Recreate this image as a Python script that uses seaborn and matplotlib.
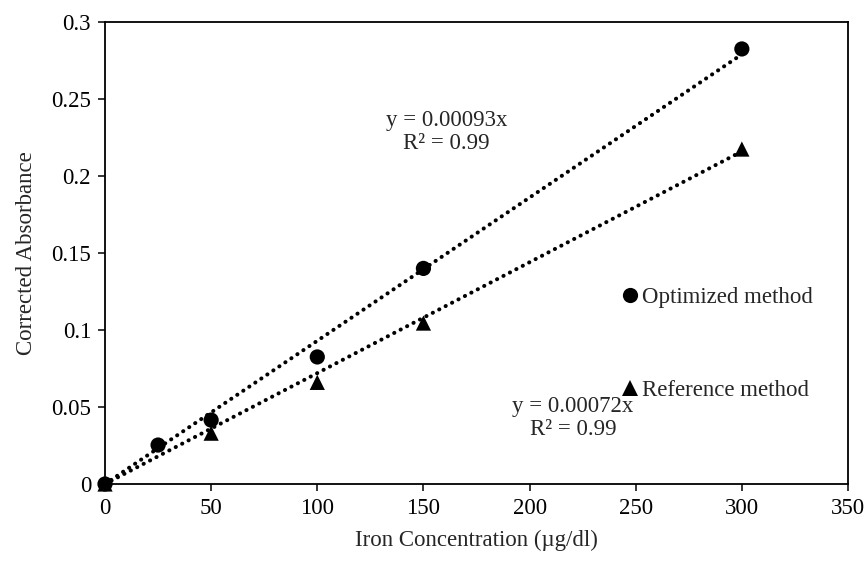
import matplotlib
matplotlib.use("Agg")
import matplotlib.pyplot as plt
import seaborn as sns
import pandas as pd
import numpy as np

# ---- data ----
opt_x = [0, 25, 50, 100, 150, 300]
opt_y = [0.0, 0.0253, 0.0415, 0.0825, 0.140, 0.2825]
ref_x = [0, 50, 100, 150, 300]
ref_y = [0.0, 0.033, 0.066, 0.1045, 0.2175]
opt_slope = 0.00093
ref_slope = 0.00072
series_names = ["Optimized method", "Reference method"]
x_ticks = [0, 50, 100, 150, 200, 250, 300, 350]
y_ticks = [0, 0.05, 0.1, 0.15, 0.2, 0.25, 0.3]
y_tick_labels = ["0", "0.05", "0.1", "0.15", "0.2", "0.25", "0.3"]

df = pd.DataFrame({
    "x": opt_x + ref_x,
    "y": opt_y + ref_y,
    "method": [series_names[0]] * len(opt_x) + [series_names[1]] * len(ref_x),
})

sns.set_style("white")
plt.rcParams["font.family"] = ["Liberation Serif", "DejaVu Serif"]

FS = 16.5

fig = plt.figure(figsize=(8.64, 5.63), dpi=100)
ax = fig.add_axes([105 / 864, 1 - 484 / 563, 743 / 864, 462 / 563])

# trend lines through the origin
for xs, slope in [(opt_x, opt_slope), (ref_x, ref_slope)]:
    xl = np.array([0, max(xs)])
    ax.plot(xl, slope * xl, color="black", lw=2.9,
            linestyle=(0, (0.05, 1.75)), dash_capstyle="round", zorder=2)

sns.scatterplot(data=df, x="x", y="y", style="method",
                markers={series_names[0]: "o", series_names[1]: "^"},
                color="black", s=120, edgecolor="black", linewidth=0,
                ax=ax, zorder=3, clip_on=False)

ax.set_xlim(0, 350)
ax.set_ylim(0, 0.3)
ax.set_xticks(x_ticks)
ax.set_xticklabels([str(t) for t in x_ticks])
ax.set_yticks(y_ticks)
ax.set_yticklabels(y_tick_labels)
ax.tick_params(axis="both", which="major", direction="out", length=5,
               width=1.1, color="black", labelsize=FS, pad=5,
               left=True, bottom=True, labelcolor="black")
for sp in ax.spines.values():
    sp.set_visible(True)
    sp.set_color("black")
    sp.set_linewidth(1.3)

ax.set_xlabel("Iron Concentration (µg/dl)", fontsize=FS, labelpad=8)
ax.set_ylabel("Corrected Absorbance", fontsize=FS, labelpad=10)

ax.text(161, 0.236, "y = 0.00093x", fontsize=FS, ha="center", va="center")
ax.text(161, 0.221, "R² = 0.99", fontsize=FS, ha="center", va="center")
ax.text(220.5, 0.0505, "y = 0.00072x", fontsize=FS, ha="center", va="center")
ax.text(220.5, 0.0355, "R² = 0.99", fontsize=FS, ha="center", va="center")

leg = ax.legend(loc="upper left", bbox_to_anchor=(0.696, 0.427),
                frameon=False, fontsize=FS, handlelength=0.7,
                handletextpad=0.15, borderpad=0, borderaxespad=0,
                labelspacing=3.16, title=None)
for h in leg.legend_handles:
    h.set_color("black")

fig.savefig("out.png", dpi=100)
